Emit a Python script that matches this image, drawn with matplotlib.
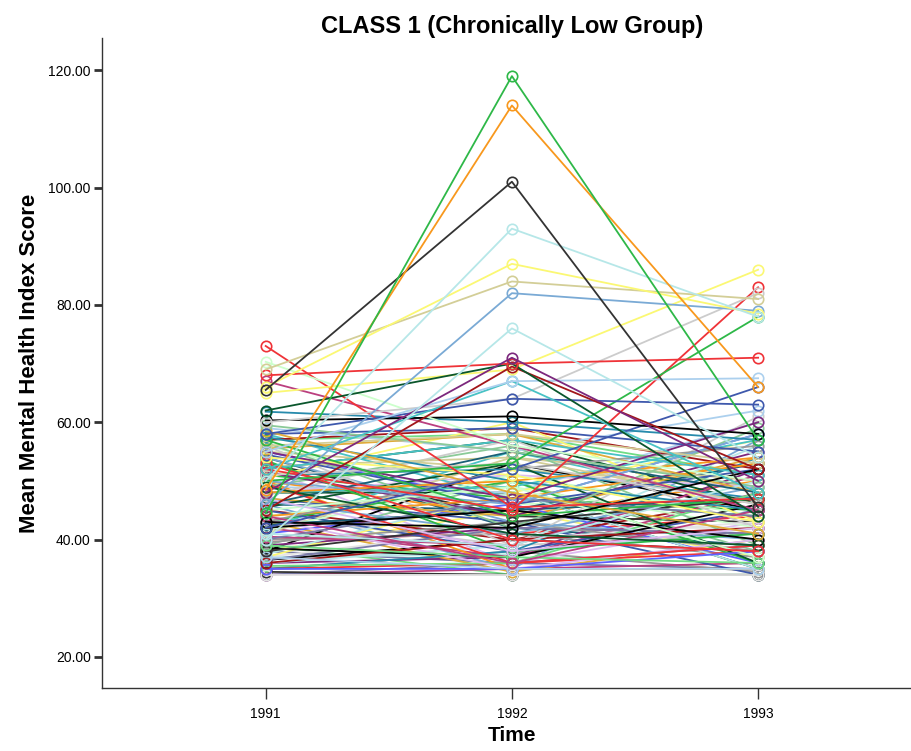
import matplotlib
matplotlib.use("Agg")
import matplotlib.pyplot as plt

plt.rcParams['font.family'] = ['Liberation Sans', 'DejaVu Sans']

years = [1991, 1992, 1993]
ytick_vals = [20, 40, 60, 80, 100, 120]

# one row per subject: score in 1991, 1992, 1993
t1991 = [44.5, 48.5, 65.5, 50, 66, 69, 46, 40, 48, 68, 62, 45, 65, 55, 52, 58, 60, 70.3, 73, 50,
         52, 60.3, 42, 43, 67, 61.8, 59.5, 58.5, 58, 57, 56, 55, 54, 53, 52, 51, 50, 49, 48, 47,
         46, 45, 44, 43, 42, 41, 40, 39, 38, 37, 36, 35, 34, 57.5, 56.5, 55.5, 54.5, 53.5, 52.5, 51.5,
         50.5, 49.5, 48, 47.5, 46.5, 45.5, 44, 43.5, 42.5, 41.5, 40.5, 39.5, 38.5, 37.5, 36.5, 35.5, 34.5, 59,
         57, 55, 53, 51, 49, 47, 45, 43, 41, 39, 37, 35, 58, 56, 54, 52, 50, 48, 46, 44,
         42, 40, 38, 36, 34, 57, 53, 49, 45, 41, 37, 35, 39, 43, 47, 51, 55, 36, 38, 40,
         42, 44, 46, 48, 50, 52, 54, 56, 34, 35, 36.5, 37, 38, 39]
t1992 = [119, 114, 101, 93, 87, 84, 82, 76, 71, 70, 70, 69.5, 69, 67, 67, 64, 64, 56, 45.5, 53,
         45, 61, 52, 42, 56, 60, 55, 48, 59, 44, 58, 47, 51, 40, 57, 53, 46, 41, 50, 38,
         55, 49, 36, 52, 45, 39, 47, 37, 43, 35, 40, 35, 34, 50, 42, 58, 46, 38, 54, 44,
         60, 36, 49, 57, 41, 53, 47, 35, 45, 51, 39, 43, 37, 48, 42, 36, 34, 55,
         59, 46, 40, 52, 56, 44, 38, 50, 54, 42, 48, 36, 47, 39, 43, 57, 35, 51, 45, 49,
         37, 41, 53, 39, 36, 58, 44, 48, 40, 46, 42, 38, 50, 34.5, 43, 47, 52, 37, 45, 41,
         55, 39, 35, 48, 44, 36, 42, 46, 35, 38, 40, 37.5, 36, 34]
t1993 = [57, 66, 45.5, 78, 78.5, 81, 79, 54, 50, 71, 44, 52, 86, 67.5, 48, 63, 82, 50, 47, 78,
         83, 58, 66, 52, 45, 57, 49, 41, 55, 47, 53, 60, 43, 38, 51, 46, 58, 39, 54, 42,
         48, 37, 45, 56, 40, 50, 44, 36, 47, 35, 42, 38, 34, 45, 59, 48, 52, 41, 46, 55,
         43, 39, 57, 42, 49, 36, 53, 40, 47, 44, 51, 38, 46, 35, 41, 48, 34, 62,
         52, 58, 43, 47, 39, 54, 45, 36, 50, 41, 57, 38, 44, 61, 40, 46, 35, 49, 53, 42,
         48, 37, 45, 56, 39, 51, 43, 60, 47, 36, 42, 54, 38, 40, 34, 45, 49, 52, 37, 44,
         46, 41, 57, 35, 50, 43, 39, 47, 36, 34.5, 38, 42, 35, 34]

palette = ['#2EB848', '#F8981D', '#333333', '#B6E7E8', '#FBF873', '#D3CE97', '#7AAAD5', '#B6E7E8',
           '#7C287D', '#EF3338', '#0A562C', '#A21619', '#FBF873', '#ACD0EE', '#48C2C5', '#3E58AC',
           '#CCCCCC', '#CCFFCC', '#EF3338', '#2EB848', '#EF3338', '#000000', '#3E58AC', '#000000',
           '#BB3F7F']
bulk_colors = ['#3E58AC', '#2EB848', '#D3CE97', '#7C287D', '#FBF873', '#EF3338', '#48C2C5',
               '#CCCCCC', '#7AAAD5', '#0A562C', '#F8981D', '#DDBAF1', '#1A5F76', '#CCFFCC',
               '#BB3F7F', '#999999', '#000000', '#B6E7E8', '#797AA7', '#70DC84', '#333333',
               '#ACD0EE', '#A21619', '#5D61FF', '#E4E4E4', '#278BAC', '#8BCA98', '#E0AB3A']

fig = plt.figure(figsize=(9.12, 7.51), dpi=100)
ax = fig.add_axes([0.1118, 0.0839, 0.899, 0.8655])

n = len(t1991)
for i in range(n - 1, -1, -1):
    if i < len(palette):
        c = palette[i]
        z = 3
    else:
        c = bulk_colors[i % len(bulk_colors)]
        z = 2
    ax.plot(years, [t1991[i], t1992[i], t1993[i]], color=c, lw=1.3,
            marker='o', ms=7.5, mfc='none', mec=c, mew=1.2, zorder=z)

ax.set_xlim(1990.335, 1993.665)
ax.set_ylim(14.7, 125.5)
ax.set_xticks(years)
ax.set_xticklabels([str(y) for y in years], fontsize=10)
ax.set_yticks(ytick_vals)
ax.set_yticklabels(['%.2f' % v for v in ytick_vals], fontsize=10)
ax.tick_params(axis='y', length=6, width=2, color='#333333', pad=2)
ax.tick_params(axis='x', length=8, width=1, color='#333333', pad=6)
for s in ['top', 'right']:
    ax.spines[s].set_visible(False)
for s in ['left', 'bottom']:
    ax.spines[s].set_color('#333333')
    ax.spines[s].set_linewidth(1.0)

ax.set_title('CLASS 1 (Chronically Low Group)', fontsize=17, fontweight='bold', pad=3)
ax.set_xlabel('Time', fontsize=15, fontweight='bold', labelpad=3)
ax.set_ylabel('Mean Mental Health Index Score', fontsize=16, fontweight='bold', labelpad=6)

fig.savefig('out.png', dpi=100)
